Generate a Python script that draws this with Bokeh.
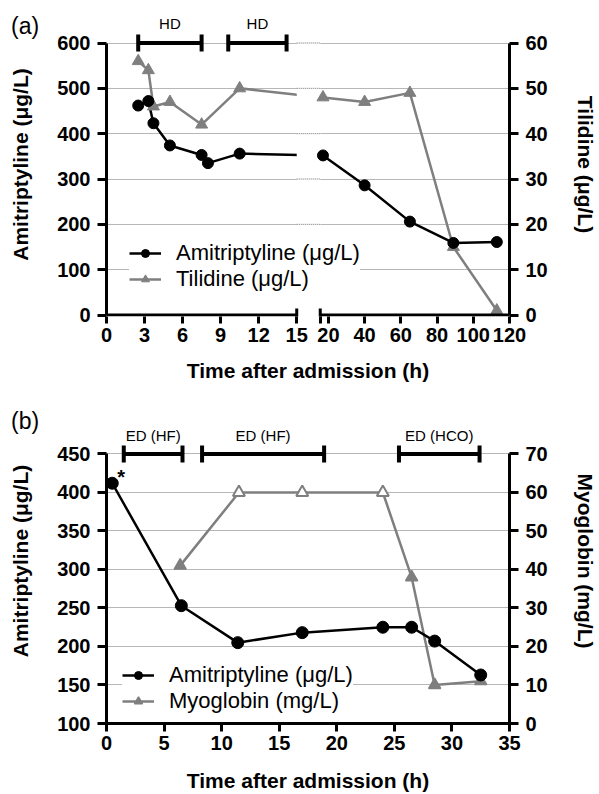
import math
from bokeh.plotting import figure
from bokeh.models import Range1d, LinearAxis, FixedTicker, Legend, LegendItem, Div
from bokeh.layouts import column
from bokeh.embed import file_html
from bokeh.resources import INLINE
from bokeh.core.properties import value

FONT = "Liberation Sans"
BLACK = "#000000"
GRAY = "#7f7f7f"
GRID_COLOR = "#6e6e6e"

# ---------------- Panel (a) data ----------------
a_amit_time = [2.5, 3.3, 3.7, 5.0, 7.5, 8.0, 10.5, 17, 40, 65, 89, 113]
a_amit_conc = [462, 472, 423, 374, 353, 335, 356, 352, 286, 206, 159, 161]
a_til_time = [2.5, 3.3, 3.7, 5.0, 7.5, 10.5, 17, 40, 65, 89, 113]
a_til_conc = [56, 54, 46, 47, 42, 50, 48, 47, 49, 15, 1]
a_hd_start = [2.5, 9.6]
a_hd_end = [7.5, 14.2]
a_hd_label = ["HD", "HD"]
a_xticks_left = [0, 3, 6, 9, 12, 15]
a_xticks_right = [20, 40, 60, 80, 100, 120]
a_amit_ticks = [0, 100, 200, 300, 400, 500, 600]
a_til_ticks = [0, 10, 20, 30, 40, 50, 60]

# ---------------- Panel (b) data ----------------
b_amit_time = [0.5, 6.5, 11.4, 17, 24, 26.5, 28.5, 32.5]
b_amit_conc = [412, 253, 205, 218, 225, 225, 207, 163]
b_myo_time = [6.4, 11.5, 17, 24, 26.5, 28.5, 32.5]
b_myo_conc = [41, 60, 60, 60, 38, 10, 11]
b_myo_open = [False, True, True, True, False, False, False]
b_ed_start = [1.5, 8.3, 25.4]
b_ed_end = [6.6, 18.9, 32.4]
b_ed_label = ["ED (HF)", "ED (HF)", "ED (HCO)"]
b_xticks = [0, 5, 10, 15, 20, 25, 30, 35]
b_amit_ticks = [100, 150, 200, 250, 300, 350, 400, 450]
b_myo_ticks = [0, 10, 20, 30, 40, 50, 60, 70]


def style_axis(ax, tick_out, label_std, title_std):
    ax.axis_line_width = 3
    ax.axis_line_color = BLACK
    ax.major_tick_line_width = 3
    ax.major_tick_line_color = BLACK
    ax.major_tick_out = tick_out
    ax.major_tick_in = 0
    ax.minor_tick_line_color = None
    ax.major_label_text_font = FONT
    ax.major_label_text_font_style = "bold"
    ax.major_label_text_font_size = "20px"
    ax.major_label_text_color = BLACK
    ax.major_label_standoff = label_std
    ax.axis_label_text_font = FONT
    ax.axis_label_text_font_style = "bold"
    ax.axis_label_text_font_size = "21px"
    ax.axis_label_text_color = BLACK
    ax.axis_label_standoff = title_std


def style_grid(p, ticks):
    p.xgrid.visible = False
    p.ygrid.ticker = FixedTicker(ticks=ticks)
    p.ygrid.grid_line_color = GRID_COLOR
    p.ygrid.grid_line_width = 1
    p.ygrid.grid_line_dash = "1 1"


def make_legend(items, loc):
    return Legend(items=items, location=loc, orientation="vertical",
                  background_fill_color="white", background_fill_alpha=1.0,
                  border_line_color=None, label_text_font=FONT,
                  label_text_font_size="22px", label_text_color=BLACK,
                  glyph_width=32, glyph_height=20, label_height=20,
                  label_standoff=15, padding=10, spacing=0, margin=0)


def panel_tag(text, left, top):
    return Div(text=f'<span style="font-family: \'{FONT}\'; font-size: 23px; '
                    f'color: black; line-height: 1;">{text}</span>',
               margin=0,
               styles={"position": "absolute", "left": f"{left}px", "top": f"{top}px",
                       "z-index": "10", "font-family": FONT, "font-size": "23px",
                       "line-height": "1", "color": "black"})


# ================= Figure (a) =================
A_W, A_H = 599, 385
A_LEFT, A_RIGHT, A_TOP, A_BOTTOM = 106, 82, 12, 69
a_fw = A_W - A_LEFT - A_RIGHT
a_fh = A_H - A_TOP - A_BOTTOM
SEG1_PX, GAP_PX = 194, 24
seg2_px = a_fw - SEG1_PX - GAP_PX
x1_end = a_xticks_left[-1]
x2_start = 15.5
x2_end = a_xticks_right[-1]
x1_max = x1_end * a_fw / SEG1_PX
x2_min = x2_end - (x2_end - x2_start) * a_fw / seg2_px
a_scale = 272 / 600.0
a_ylo = -1.5 / a_scale
a_yhi = a_ylo + a_fh / a_scale
til_ratio = a_amit_ticks[-1] / a_til_ticks[-1]


def to_left_units(t):
    return (t - x2_min) / (x2_end - x2_min) * x1_max


pA = figure(width=A_W, height=A_H, x_range=Range1d(0, x1_max),
            y_range=Range1d(a_ylo, a_yhi), output_backend="svg",
            toolbar_location=None, min_border_left=A_LEFT,
            min_border_right=A_RIGHT, min_border_top=A_TOP,
            min_border_bottom=A_BOTTOM, background_fill_color="white",
            border_fill_color="white", outline_line_color=None)
pA.extra_x_ranges = {"seg2": Range1d(x2_min, x2_end)}
pA.extra_y_ranges = {"til": Range1d(a_ylo / til_ratio, a_yhi / til_ratio)}

xa = pA.xaxis[0]
style_axis(xa, 7, 4, 14)
left_pos = [float(t) for t in a_xticks_left]
right_pos = [to_left_units(t) for t in a_xticks_right]
cap_pos = to_left_units(x2_start)
xa.ticker = FixedTicker(ticks=left_pos + [cap_pos] + right_pos)
overrides = {p_: str(t) for p_, t in zip(left_pos, a_xticks_left)}
overrides.update({p_: str(t) for p_, t in zip(right_pos, a_xticks_right)})
overrides[cap_pos] = ""
xa.major_label_overrides = overrides
xa.axis_line_color = None
xa.axis_label = "Time after admission (h)"

ya = pA.yaxis[0]
style_axis(ya, 9, 7, 22)
ya.ticker = FixedTicker(ticks=a_amit_ticks)
ya.bounds = (a_amit_ticks[0], a_amit_ticks[-1])
ya.axis_label = "Amitriptyline (μg/L)"

ra = LinearAxis(y_range_name="til")
style_axis(ra, 9, 7, 23)
ra.ticker = FixedTicker(ticks=a_til_ticks)
ra.bounds = (a_til_ticks[0], a_til_ticks[-1])
ra.axis_label = "Tilidine (μg/L)"
pA.add_layout(ra, "right")

style_grid(pA, a_amit_ticks[1:])

n1a = sum(1 for t in a_amit_time if t <= x1_end)
n1t = sum(1 for t in a_til_time if t <= x1_end)

til_line1 = pA.line(a_til_time[:n1t + 1], a_til_conc[:n1t + 1], y_range_name="til",
                    line_color=GRAY, line_width=2.5)
amit_line1 = pA.line(a_amit_time[:n1a + 1], a_amit_conc[:n1a + 1],
                     line_color=BLACK, line_width=2.5)
# white band hiding the axis break
pA.quad(left=[x1_end], right=[cap_pos], bottom=[a_ylo], top=[a_yhi],
        fill_color="white", line_color=None)
gl = a_amit_ticks[1:]
pA.segment(x0=[x1_end] * len(gl), x1=[cap_pos] * len(gl), y0=gl, y1=gl,
           line_color=GRID_COLOR, line_width=1, line_dash="1 1")
pA.line(a_til_time[n1t:], a_til_conc[n1t:], x_range_name="seg2", y_range_name="til",
        line_color=GRAY, line_width=2.5)
pA.line(a_amit_time[n1a:], a_amit_conc[n1a:], x_range_name="seg2",
        line_color=BLACK, line_width=2.5)
til_pts1 = pA.scatter(a_til_time[:n1t], a_til_conc[:n1t], y_range_name="til",
                      marker="triangle", size=12, fill_color=GRAY, line_color=GRAY)
pA.scatter(a_til_time[n1t:], a_til_conc[n1t:], x_range_name="seg2", y_range_name="til",
           marker="triangle", size=12, fill_color=GRAY, line_color=GRAY)
amit_pts1 = pA.scatter(a_amit_time[:n1a], a_amit_conc[:n1a], marker="circle",
                       size=11, fill_color=BLACK, line_color=BLACK)
pA.scatter(a_amit_time[n1a:], a_amit_conc[n1a:], x_range_name="seg2",
           marker="circle", size=11, fill_color=BLACK, line_color=BLACK)

# HD bars
a_top = a_amit_ticks[-1]
pA.segment(x0=a_hd_start, x1=a_hd_end, y0=[a_top] * len(a_hd_start),
           y1=[a_top] * len(a_hd_start), line_color=BLACK, line_width=4)
pA.scatter(x=a_hd_start + a_hd_end, y=[a_top] * (2 * len(a_hd_start)), marker="dash",
           angle=math.pi / 2, size=17, line_color=BLACK, line_width=4)
pA.text(x=[(s + e) / 2 for s, e in zip(a_hd_start, a_hd_end)], y=[a_top] * len(a_hd_start),
        text=a_hd_label, y_offset=-20, text_align="center", text_baseline="middle",
        text_font=value(FONT), text_font_size="15px", text_color=BLACK)

# broken x axis line
pA.segment(x0=[a_xticks_left[0]], x1=[x1_end], y0=[0], y1=[0], line_color=BLACK, line_width=3)
pA.segment(x0=[x2_start], x1=[x2_end], y0=[0], y1=[0], x_range_name="seg2",
           line_color=BLACK, line_width=3)
pA.scatter(x=[x1_end], y=[0], marker="dash", angle=math.pi / 2, size=13,
           line_color=BLACK, line_width=3)
pA.scatter(x=[x2_start], y=[0], x_range_name="seg2", marker="dash", angle=math.pi / 2,
           size=13, line_color=BLACK, line_width=3)

legA = make_legend([LegendItem(label="Amitriptyline (μg/L)", renderers=[amit_line1, amit_pts1]),
                    LegendItem(label="Tilidine (μg/L)", renderers=[til_line1, til_pts1])],
                   (23, 24))
pA.add_layout(legA)

# ================= Figure (b) =================
B_W, B_H = 599, 409
B_LEFT, B_RIGHT, B_TOP, B_BOTTOM = 106, 82, 13, 68
b_fh = B_H - B_TOP - B_BOTTOM
b_scale = 272 / 350.0
b_ylo = b_amit_ticks[0]
b_yhi = b_ylo + b_fh / b_scale
myo_ratio = (b_amit_ticks[-1] - b_amit_ticks[0]) / (b_myo_ticks[-1] - b_myo_ticks[0])

pB = figure(width=B_W, height=B_H, x_range=Range1d(b_xticks[0], b_xticks[-1]),
            y_range=Range1d(b_ylo, b_yhi), output_backend="svg",
            toolbar_location=None, min_border_left=B_LEFT,
            min_border_right=B_RIGHT, min_border_top=B_TOP,
            min_border_bottom=B_BOTTOM, background_fill_color="white",
            border_fill_color="white", outline_line_color=None)
pB.extra_y_ranges = {"myo": Range1d((b_ylo - b_amit_ticks[0]) / myo_ratio,
                                    (b_yhi - b_amit_ticks[0]) / myo_ratio)}

xb = pB.xaxis[0]
style_axis(xb, 8, 4, 16)
xb.ticker = FixedTicker(ticks=b_xticks)
xb.axis_label = "Time after admission (h)"

yb = pB.yaxis[0]
style_axis(yb, 9, 7, 22)
yb.ticker = FixedTicker(ticks=b_amit_ticks)
yb.bounds = (b_amit_ticks[0], b_amit_ticks[-1])
yb.axis_label = "Amitriptyline (μg/L)"

rb = LinearAxis(y_range_name="myo")
style_axis(rb, 9, 7, 23)
rb.ticker = FixedTicker(ticks=b_myo_ticks)
rb.bounds = (b_myo_ticks[0], b_myo_ticks[-1])
rb.axis_label = "Myoglobin (mg/L)"
pB.add_layout(rb, "right")

style_grid(pB, b_amit_ticks[1:])

myo_line = pB.line(b_myo_time, b_myo_conc, y_range_name="myo", line_color=GRAY, line_width=2.5)
amit_line_b = pB.line(b_amit_time, b_amit_conc, line_color=BLACK, line_width=2.5)
filled_t = [t for t, o in zip(b_myo_time, b_myo_open) if not o]
filled_v = [v for v, o in zip(b_myo_conc, b_myo_open) if not o]
open_t = [t for t, o in zip(b_myo_time, b_myo_open) if o]
open_v = [v for v, o in zip(b_myo_conc, b_myo_open) if o]
myo_pts = pB.scatter(filled_t, filled_v, y_range_name="myo", marker="triangle", size=12,
                     fill_color=GRAY, line_color=GRAY, line_width=1.5)
pB.scatter(open_t, open_v, y_range_name="myo", marker="triangle", size=12,
           fill_color="white", line_color=GRAY, line_width=2)
amit_pts_b = pB.scatter(b_amit_time, b_amit_conc, marker="circle", size=12,
                        fill_color=BLACK, line_color=BLACK)

b_top = b_amit_ticks[-1]
pB.segment(x0=b_ed_start, x1=b_ed_end, y0=[b_top] * len(b_ed_start),
           y1=[b_top] * len(b_ed_start), line_color=BLACK, line_width=4)
pB.scatter(x=b_ed_start + b_ed_end, y=[b_top] * (2 * len(b_ed_start)), marker="dash",
           angle=math.pi / 2, size=17, line_color=BLACK, line_width=4)
pB.text(x=[(s + e) / 2 for s, e in zip(b_ed_start, b_ed_end)], y=[b_top] * len(b_ed_start),
        text=b_ed_label, y_offset=-18, text_align="center", text_baseline="middle",
        text_font=value(FONT), text_font_size="15px", text_color=BLACK)
pB.text(x=[b_amit_time[0]], y=[b_amit_conc[0]], text=["*"], x_offset=9, y_offset=-6,
        text_align="center", text_baseline="middle", text_font=value(FONT),
        text_font_size="20px", text_font_style="bold", text_color=BLACK)

legB = make_legend([LegendItem(label="Amitriptyline (μg/L)", renderers=[amit_line_b, amit_pts_b]),
                    LegendItem(label="Myoglobin (mg/L)", renderers=[myo_line, myo_pts])],
                   (16, 9))
pB.add_layout(legB)

tag_a = panel_tag("(a)", 11, 15)
tag_b = panel_tag("(b)", 11, 410)

layout = column(pA, pB, tag_a, tag_b, spacing=0)
open("out.html", "w").write(file_html(layout, INLINE))
